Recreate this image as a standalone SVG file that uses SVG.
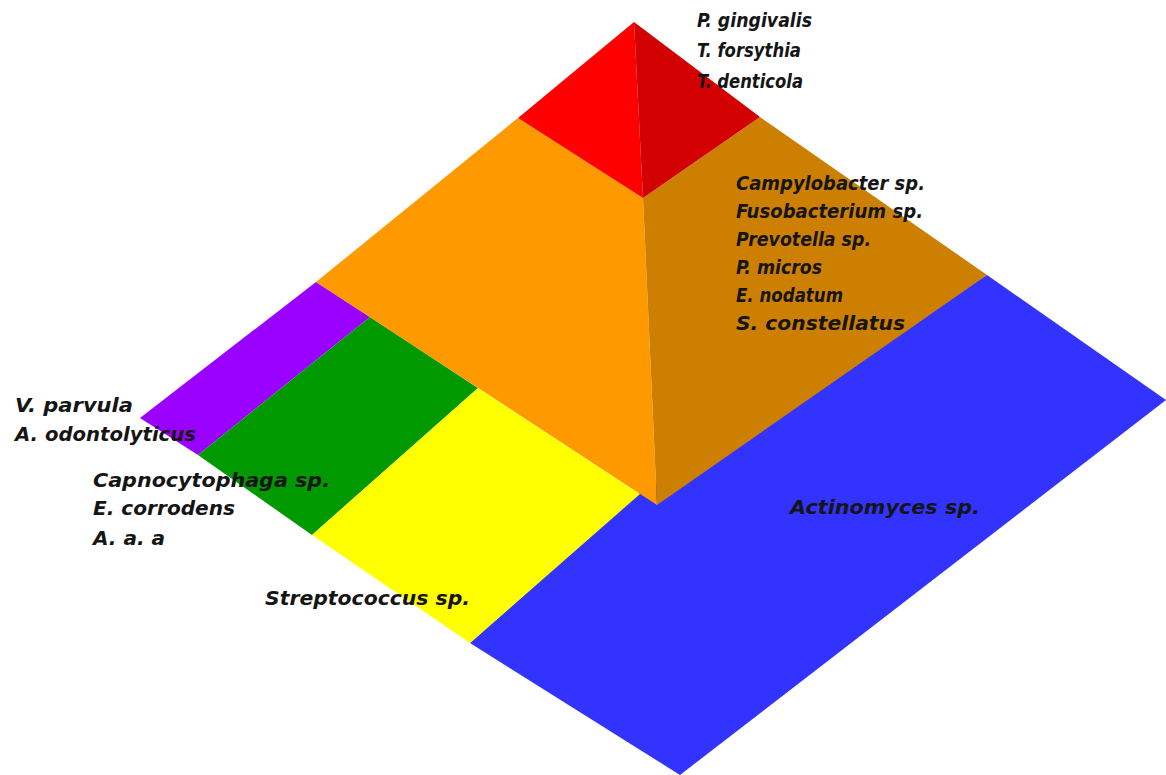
<svg xmlns="http://www.w3.org/2000/svg" width="1166" height="775" viewBox="0 0 1166 775">
<style>
.t{font-family:"DejaVu Sans","Liberation Sans",sans-serif;font-weight:bold;font-style:italic;font-size:19px;fill:#151515}
</style>
<rect width="1166" height="775" fill="#ffffff"/>
<g id="base">
<polygon id="blue" points="470,643 638,494 987,275 1166,400 680,775" fill="#3333ff"/>
<polygon id="purple" points="140,418 316,282 370,317 198,455" fill="#9900ff"/>
<polygon id="green" points="198,455 370,317 478,388 312,535" fill="#009900"/>
<polygon id="yellow" points="312,535 478,388 640,494 470,643" fill="#ffff00"/>
</g>
<g id="pyramid">
<polygon id="orange-left" points="518,118 316,282 657,505 643,198" fill="#ff9900"/>
<polygon id="orange-right" points="643,198 657,505 987,275 760,117" fill="#cc7f00"/>
<polygon id="red-left" points="634,22 518,118 643,198" fill="#ff0000"/>
<polygon id="red-right" points="634,22 643,198 760,117" fill="#d20000"/>
</g>
<g id="labels">
<text class="t" x="697" y="27" textLength="115" lengthAdjust="spacingAndGlyphs">P. gingivalis</text>
<text class="t" x="697" y="57" textLength="104" lengthAdjust="spacingAndGlyphs">T. forsythia</text>
<text class="t" x="697" y="88" textLength="106" lengthAdjust="spacingAndGlyphs">T. denticola</text>
<text class="t" x="736" y="190" textLength="189" lengthAdjust="spacingAndGlyphs">Campylobacter sp.</text>
<text class="t" x="736" y="218" textLength="187" lengthAdjust="spacingAndGlyphs">Fusobacterium sp.</text>
<text class="t" x="736" y="246" textLength="135" lengthAdjust="spacingAndGlyphs">Prevotella sp.</text>
<text class="t" x="736" y="274" textLength="86" lengthAdjust="spacingAndGlyphs">P. micros</text>
<text class="t" x="736" y="302" textLength="107" lengthAdjust="spacingAndGlyphs">E. nodatum</text>
<text class="t" x="736" y="330" textLength="169" lengthAdjust="spacingAndGlyphs">S. constellatus</text>
<text class="t" x="15" y="412" textLength="118" lengthAdjust="spacingAndGlyphs">V. parvula</text>
<text class="t" x="15" y="441" textLength="181" lengthAdjust="spacingAndGlyphs">A. odontolyticus</text>
<text class="t" x="93" y="487" textLength="237" lengthAdjust="spacingAndGlyphs">Capnocytophaga sp.</text>
<text class="t" x="93" y="515" textLength="142" lengthAdjust="spacingAndGlyphs">E. corrodens</text>
<text class="t" x="93" y="545" textLength="72" lengthAdjust="spacingAndGlyphs">A. a. a</text>
<text class="t" x="265" y="605" textLength="205" lengthAdjust="spacingAndGlyphs">Streptococcus sp.</text>
<text class="t" x="790" y="514" textLength="190" lengthAdjust="spacingAndGlyphs">Actinomyces sp.</text>
</g>
</svg>
